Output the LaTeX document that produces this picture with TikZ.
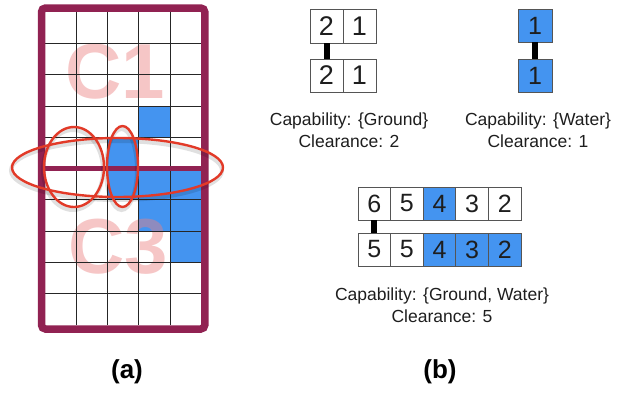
\documentclass[tikz,border=0pt]{standalone}
\usepackage{fontspec}
\setmainfont{Liberation Sans}
\definecolor{framemaroon}{RGB}{145,34,82}
\definecolor{cellblue}{RGB}{68,148,240}
\definecolor{ellred}{RGB}{226,58,40}
\definecolor{cpink}{RGB}{236,130,130}
\definecolor{txt}{RGB}{30,30,30}
\definecolor{cellborder}{RGB}{85,85,85}
\begin{document}
\begin{tikzpicture}[x=1pt,y=-1pt,
  gridline/.style={black!85, line width=0.8pt},
  bluecell/.style={fill=cellblue},
  bigletters/.style={font=\fontsize{78}{78}\selectfont\bfseries, text=cpink, text opacity=0.45, inner sep=0pt},
  ellline/.style={draw=ellred, line width=2.4pt},
  ellshadow/.style={draw=black, opacity=0.12, line width=4pt},
  numcell/.style={draw=cellborder, line width=0.8pt, minimum width=33pt, minimum height=34pt, inner sep=0pt, text=txt, font=\fontsize{27}{27}\selectfont},
  numcellb/.style={draw=cellborder, line width=0.8pt, minimum width=32.6pt, minimum height=33pt, inner sep=0pt, text=txt, font=\fontsize{25}{25}\selectfont},
  connbar/.style={draw=black, line width=6pt},
  lbl/.style={align=center, text=txt, font=\fontsize{17.5}{22}\selectfont, inner sep=0pt},
  sublbl/.style={text=black, font=\fontsize{26}{26}\selectfont\bfseries, inner sep=0pt}
]
\useasboundingbox (0,0) rectangle (618,394);
% ---------- panel (a) ----------
\fill[white] (45,12) rectangle (201.25,325);
\foreach \c/\r in {3/3, 2/4, 2/5, 3/5, 4/5, 3/6, 4/6, 4/7}
  \fill[bluecell] ({45+31.25*\c},{12+31.3*\r}) rectangle +(31.25,31.3);
\node[bigletters] (c1) at (115,72) {C1};
\node[bigletters] (c3) at (118,247) {C3};
\foreach \i in {1,...,4}
  \draw[gridline] ({45+31.25*\i},12) -- ({45+31.25*\i},325);
\foreach \j in {1,...,9}
  \draw[gridline] (45,{12+31.3*\j}) -- (201.25,{12+31.3*\j});
\draw[framemaroon, line width=7.5pt, rounded corners=4pt] (41.5,8) rectangle (204.75,329);
\draw[framemaroon, line width=5pt] (45,168.5) -- (201.25,168.5);
% ellipses
\draw[ellshadow] (116.5,170.5) ellipse [x radius=105.5pt, y radius=29.5pt];
\draw[ellshadow] (73,170) ellipse [x radius=30pt, y radius=40pt];
\draw[ellshadow] (121.5,169.5) ellipse [x radius=15.5pt, y radius=40.5pt];
\draw[ellline] (117.5,167.5) ellipse [x radius=105.5pt, y radius=29.5pt];
\draw[ellline] (74,167) ellipse [x radius=30pt, y radius=40pt];
\draw[ellline] (122.5,166.5) ellipse [x radius=15.5pt, y radius=40.5pt];
% ---------- panel (b) ----------
% group 1
\node[numcell] (g1t1) at (326.5,26) {2};
\node[numcell] (g1t2) at (359.5,26) {1};
\node[numcell, minimum height=33pt] (g1b1) at (326.5,75.5) {2};
\node[numcell, minimum height=33pt] (g1b2) at (359.5,75.5) {1};
\draw[connbar] (g1t1.south) -- (g1b1.north);
\node[lbl] (cap1) at (349,130) {Capability: \{Ground\}\\Clearance: 2};
% group 2
\node[numcell, fill=cellblue, minimum width=34pt, minimum height=33pt, font=\fontsize{25}{25}\selectfont] (g2t) at (535,25.5) {1};
\node[numcell, fill=cellblue, minimum width=34pt, minimum height=33pt, font=\fontsize{25}{25}\selectfont] (g2b) at (535,75.5) {1};
\draw[connbar] (g2t.south) -- (g2b.north);
\node[lbl] (cap2) at (538,130) {Capability: \{Water\}\\Clearance: 1};
% group 3
\node[numcellb] (g3t1) at (374.3,203.5) {6};
\node[numcellb] (g3t2) at (406.9,203.5) {5};
\node[numcellb, fill=cellblue] (g3t3) at (439.5,203.5) {4};
\node[numcellb] (g3t4) at (472.1,203.5) {3};
\node[numcellb] (g3t5) at (504.7,203.5) {2};
\node[numcellb] (g3b1) at (374.3,249.5) {5};
\node[numcellb] (g3b2) at (406.9,249.5) {5};
\node[numcellb, fill=cellblue] (g3b3) at (439.5,249.5) {4};
\node[numcellb, fill=cellblue] (g3b4) at (472.1,249.5) {3};
\node[numcellb, fill=cellblue] (g3b5) at (504.7,249.5) {2};
\draw[connbar] (g3t1.south) -- (g3b1.north);
\node[lbl] (cap3) at (442,305) {Capability: \{Ground, Water\}\\Clearance: 5};
% sub-labels
\node[sublbl] (la) at (127,372) {(a)};
\node[sublbl] (lb) at (440,372) {(b)};
\end{tikzpicture}
\end{document}
